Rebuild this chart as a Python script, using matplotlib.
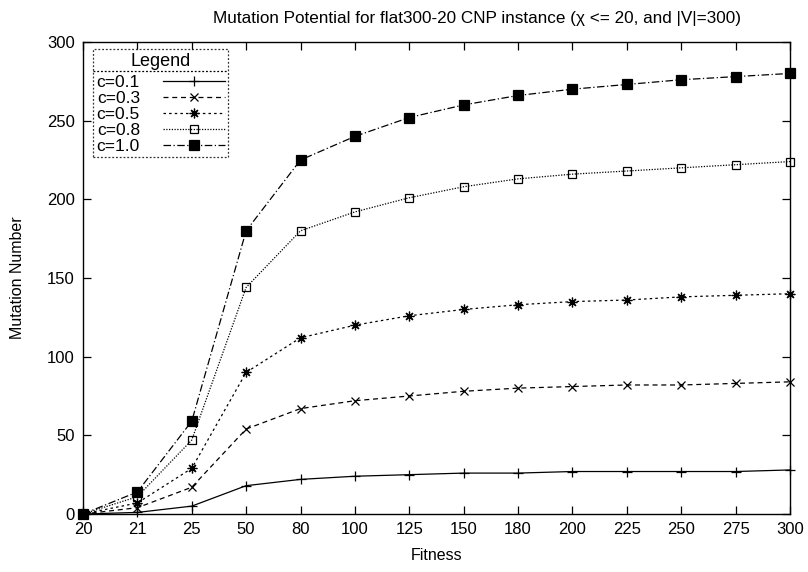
import matplotlib
matplotlib.use("Agg")
import matplotlib.pyplot as plt
from matplotlib.lines import Line2D

plt.rcParams['font.family'] = ['Liberation Sans', 'DejaVu Sans']

fitness = ["20", "21", "25", "50", "80", "100", "125", "150", "180", "200", "225", "250", "275", "300"]
c01 = [0, 1, 5, 18, 22, 24, 25, 26, 26, 27, 27, 27, 27, 28]
c03 = [0, 4, 17, 54, 67, 72, 75, 78, 80, 81, 82, 82, 83, 84]
c05 = [0, 7, 29, 90, 112, 120, 126, 130, 133, 135, 136, 138, 139, 140]
c08 = [0, 11, 47, 144, 180, 192, 201, 208, 213, 216, 218, 220, 222, 224]
c10 = [0, 14, 59, 180, 225, 240, 252, 260, 266, 270, 273, 276, 278, 280]
labels = ["c=0.1", "c=0.3", "c=0.5", "c=0.8", "c=1.0"]
yticks = [0, 50, 100, 150, 200, 250, 300]

fig = plt.figure(figsize=(8.08, 5.72), dpi=100)
ax = fig.add_axes([0.1027, 0.1014, 0.8750, 0.8252])

x = list(range(len(fitness)))
styles = [
    dict(ls='-', marker='+', ms=7, mfc='none'),
    dict(ls=(0, (4, 3)), marker='x', ms=6, mfc='none'),
    dict(ls=(0, (2, 2.5)), marker=(8, 2, 0), ms=7, mfc='none'),
    dict(ls=(0, (1, 1.2)), marker='s', ms=6, mfc='none'),
    dict(ls=(0, (6, 2, 1, 2)), marker='s', ms=6.5, mfc='black'),
]
series = [c01, c03, c05, c08, c10]
handles = []
for vals, lab, st in zip(series, labels, styles):
    h, = ax.plot(x, vals, color='black', lw=0.9, mec='black', mew=0.9,
                 label=lab, clip_on=False, **st)
    handles.append(h)

ax.set_xlim(0, len(fitness) - 1)
ax.set_ylim(0, 300)
ax.set_xticks(x)
ax.set_xticklabels(fitness)
ax.set_yticks(yticks)
ax.tick_params(direction='in', length=6, width=0.9, top=True, right=True,
               labelsize=12, pad=6)
for s in ax.spines.values():
    s.set_linewidth(1.0)

ax.set_xlabel("Fitness", fontsize=11.5, labelpad=8)
ax.set_ylabel("Mutation Number", fontsize=11.5, labelpad=16)
fig.text(0.590, 1 - 18 / 572,
         "Mutation Potential for flat300-20 CNP instance (\u03c7 <= 20, and |V|=300)",
         fontsize=12.3, ha='center', va='center')

leg = ax.legend(handles=handles, loc='upper left', bbox_to_anchor=(0.0145, 0.985),
                title="Legend", markerfirst=False, fontsize=12.5, title_fontsize=13,
                frameon=True, fancybox=False, borderpad=0.2, labelspacing=0.04,
                handlelength=3.6, handletextpad=1.3, borderaxespad=0)
leg._legend_box.sep = 4
fr = leg.get_frame()
fr.set_linestyle((0, (1.5, 1.5)))
fr.set_edgecolor('black')
fr.set_linewidth(0.9)

fig.canvas.draw()
tb = leg.get_title().get_window_extent()
lb = leg.get_window_extent()
inv = fig.transFigure.inverted()
(x0, y0) = inv.transform((lb.x0, tb.y0 - 1))
(x1, _) = inv.transform((lb.x1, tb.y0 - 1))
fig.add_artist(Line2D([x0, x1], [y0, y0], transform=fig.transFigure,
                      color='black', lw=0.9, ls=(0, (1.5, 1.5))))

fig.savefig("out.png", dpi=100)
